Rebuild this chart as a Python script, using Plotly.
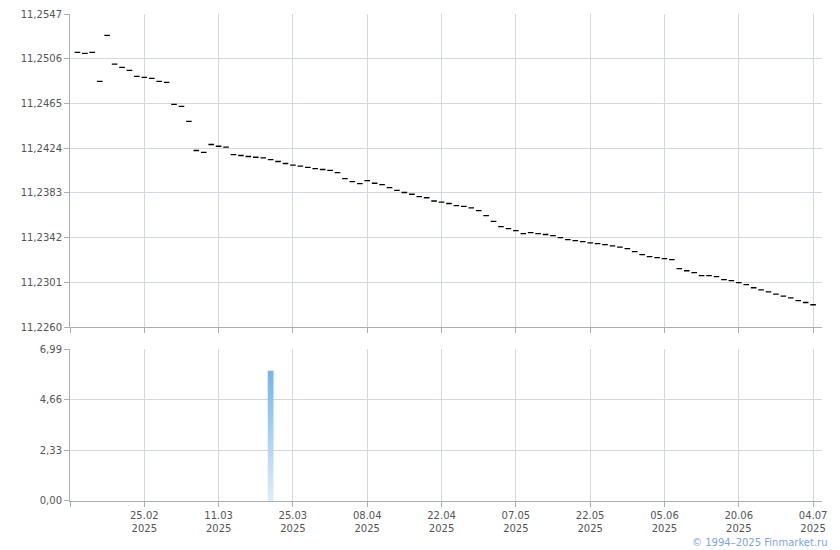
import plotly.graph_objects as go

# ---- data ----
price_values = [
    11.25118, 11.25109, 11.25118, 11.24852, 11.25274, 11.25011, 11.24981, 11.24953, 11.24898, 11.24889,
    11.24880, 11.24852, 11.24844, 11.24641, 11.24623, 11.24486, 11.24219, 11.24201, 11.24274, 11.24258,
    11.24249, 11.24182, 11.24173, 11.24164, 11.24157, 11.24152, 11.24136, 11.24118, 11.24100, 11.24084,
    11.24075, 11.24064, 11.24052, 11.24045, 11.24036, 11.24017, 11.23962, 11.23934, 11.23916, 11.23943,
    11.23919, 11.23907, 11.23879, 11.23854, 11.23834, 11.23818, 11.23797, 11.23786, 11.23756, 11.23746,
    11.23733, 11.23714, 11.23706, 11.23694, 11.23668, 11.23622, 11.23570, 11.23521, 11.23503, 11.23484,
    11.23457, 11.23466, 11.23457, 11.23449, 11.23439, 11.23420, 11.23403, 11.23393, 11.23383, 11.23372,
    11.23365, 11.23356, 11.23345, 11.23334, 11.23319, 11.23292, 11.23265, 11.23247, 11.23237, 11.23228,
    11.23218, 11.23136, 11.23117, 11.23100, 11.23072, 11.23072, 11.23063, 11.23036, 11.23026, 11.23008,
    11.22989, 11.22961, 11.22941, 11.22923, 11.22902, 11.22884, 11.22868, 11.22843, 11.22826, 11.22805,
]
day_index = list(range(len(price_values)))

volume_index = [26]
volume_values = [5.99]

tick_index = [-1, 9, 19, 29, 39, 49, 59, 69, 79, 89, 99]
tick_labels = ["", "25.02<br>2025", "11.03<br>2025", "25.03<br>2025", "08.04<br>2025",
               "22.04<br>2025", "07.05<br>2025", "22.05<br>2025", "05.06<br>2025",
               "20.06<br>2025", "04.07<br>2025"]

price_ticks = [11.2260, 11.2301, 11.2342, 11.2383, 11.2424, 11.2465, 11.2506, 11.2547]
price_tick_text = ["11,2260", "11,2301", "11,2342", "11,2383", "11,2424", "11,2465", "11,2506", "11,2547"]
volume_ticks = [0.0, 2.33, 4.66, 6.99]
volume_tick_text = ["0,00", "2,33", "4,66", "6,99"]

# ---- style ----
GRID = "#d3d8de"
AXIS = "#a9adb4"
TEXT = "#555555"
FONT = "DejaVu Sans"
BAR_W = 0.78

fig = go.Figure()

fig.add_trace(go.Scatter(
    x=day_index, y=price_values, mode="markers",
    marker=dict(symbol="line-ew", size=4, color="#000000",
                line=dict(color="#000000", width=1.3)),
    xaxis="x", yaxis="y", hoverinfo="skip", showlegend=False,
))

for i, v in zip(volume_index, volume_values):
    fig.add_trace(go.Scatter(
        x=[i - BAR_W / 2, i + BAR_W / 2, i + BAR_W / 2, i - BAR_W / 2, i - BAR_W / 2],
        y=[0, 0, v, v, 0],
        mode="lines", fill="toself", line=dict(width=0, color="rgba(0,0,0,0)"),
        fillgradient=dict(type="vertical",
                          colorscale=[[0, "#e0edf9"], [1, "#74b5ec"]]),
        xaxis="x2", yaxis="y2", hoverinfo="skip", showlegend=False,
    ))

x_common = dict(
    range=[-1, 100.2], tickmode="array", tickvals=tick_index,
    showgrid=True, gridcolor=GRID, gridwidth=1,
    showline=True, linecolor=AXIS, linewidth=1,
    ticks="outside", ticklen=5, tickcolor=AXIS,
    zeroline=False, fixedrange=True, automargin=False,
    tickfont=dict(family=FONT, size=10, color=TEXT),
)
y_common = dict(
    tickmode="array", showgrid=True, gridcolor=GRID, gridwidth=1,
    showline=True, linecolor=AXIS, linewidth=1,
    ticks="outside", ticklen=5, tickcolor=AXIS,
    zeroline=False, fixedrange=True, automargin=False,
    tickfont=dict(family=FONT, size=10, color=TEXT),
)

fig.update_layout(
    width=840, height=550,
    margin=dict(l=70, r=18, t=14, b=49),
    paper_bgcolor="white", plot_bgcolor="white",
    xaxis=dict(**x_common, domain=[0, 1], anchor="y",
               ticktext=[""] * len(tick_index), showticklabels=False),
    yaxis=dict(**y_common, domain=[0.357, 1], anchor="x",
               range=[price_ticks[0], price_ticks[-1]],
               tickvals=price_ticks, ticktext=price_tick_text),
    xaxis2=dict(**x_common, domain=[0, 1], anchor="y2", matches="x",
                ticktext=tick_labels),
    yaxis2=dict(**y_common, domain=[0, 0.312], anchor="x2",
                range=[volume_ticks[0], volume_ticks[-1]],
                tickvals=volume_ticks, ticktext=volume_tick_text),
    annotations=[dict(
        text="© 1994–2025 Finmarket.ru", xref="paper", yref="paper",
        x=1.01, y=-0.085, xanchor="right", yanchor="middle", showarrow=False,
        font=dict(family=FONT, size=10, color="#7aa5e4"),
    )],
)

fig.write_html("out.html",
               config={"displayModeBar": False, "staticPlot": True},
               post_script="document.body.style.margin='0';document.body.style.overflow='hidden';")
